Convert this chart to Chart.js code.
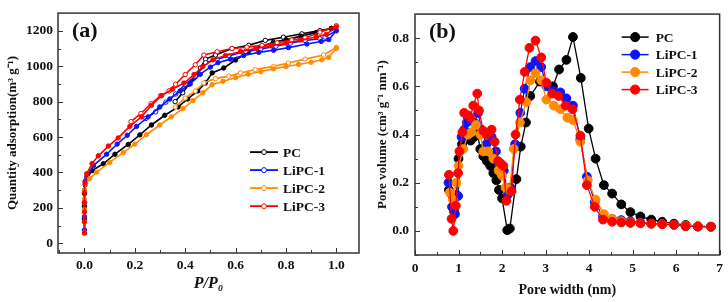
<!DOCTYPE html>
<html>
<head>
<meta charset="utf-8">
<script src="https://cdn.jsdelivr.net/npm/chart.js@4.4.1/dist/chart.umd.min.js"></script>
<style>
  html, body { margin: 0; padding: 0; background: #fff; }
  #wrap { position: relative; width: 728px; height: 302px; }
  #wrap canvas { position: absolute; top: 0; }
  #isoChart { left: 0; }
  #psdChart { left: 364px; }
</style>
</head>
<body>
<div id="wrap">
  <canvas id="isoChart" width="364" height="302"></canvas>
  <canvas id="psdChart" width="364" height="302"></canvas>
</div>
<script>
// ── Series ──
const seriesNames = ['PC', 'LiPC-1', 'LiPC-2', 'LiPC-3'];
const seriesColors = ['#000000', '#0a14ff', '#ff8a00', '#ff0000'];

// ── (a) N2 isotherms: relative pressure P/P0 vs quantity adsorbed ──
const pcAdsP = [0, 0, 0, 0, 0.003, 0.01, 0.03, 0.075, 0.121, 0.174, 0.22, 0.266, 0.319, 0.372, 0.41, 0.45, 0.48, 0.507, 0.553, 0.6, 0.65, 0.7, 0.75, 0.8, 0.86, 0.92, 0.98];
const pcAdsQ = [70, 140, 210, 280, 330, 370, 410, 449, 503, 558, 612, 668, 723, 770, 815, 860, 905, 962, 990, 1035, 1080, 1110, 1135, 1150, 1170, 1190, 1213];
const pcDesP = [0.98, 0.935, 0.863, 0.79, 0.718, 0.652, 0.586, 0.52, 0.481, 0.46, 0.44, 0.415, 0.39, 0.36];
const pcDesQ = [1213, 1201, 1183, 1164, 1146, 1118, 1100, 1063, 1040, 990, 940, 898, 850, 800];

const li1AdsP = [0, 0, 0, 0, 0.003, 0.01, 0.036, 0.088, 0.13, 0.17, 0.207, 0.253, 0.299, 0.339, 0.38, 0.42, 0.46, 0.5, 0.53, 0.58, 0.632, 0.692, 0.751, 0.81, 0.883, 0.94, 0.97, 1.0];
const li1AdsQ = [75, 150, 230, 300, 350, 380, 439, 503, 560, 610, 660, 714, 770, 815, 860, 900, 955, 995, 1020, 1040, 1060, 1078, 1090, 1105, 1125, 1140, 1150, 1200];
const li1DesP = [1.0, 0.955, 0.935, 0.876, 0.817, 0.76, 0.7, 0.64, 0.573, 0.527, 0.481, 0.441, 0.4, 0.362, 0.323, 0.283, 0.244];
const li1DesQ = [1201, 1164, 1155, 1145, 1130, 1113, 1097, 1084, 1058, 1040, 1020, 944, 898, 843, 797, 742, 705];

const li2AdsP = [0, 0, 0, 0, 0, 0.005, 0.02, 0.049, 0.1, 0.154, 0.2, 0.246, 0.299, 0.345, 0.391, 0.431, 0.47, 0.507, 0.55, 0.6, 0.65, 0.7, 0.75, 0.8, 0.85, 0.9, 0.942, 0.97, 1.0];
const li2AdsQ = [60, 120, 190, 250, 300, 335, 365, 402, 457, 512, 560, 613, 668, 714, 760, 806, 850, 895, 915, 935, 955, 970, 985, 998, 1010, 1022, 1036, 1050, 1100];
const li2DesP = [1.0, 0.949, 0.876, 0.81, 0.751, 0.678, 0.619, 0.573, 0.52, 0.474, 0.44, 0.4, 0.36];
const li2DesQ = [1106, 1063, 1040, 1018, 999, 981, 962, 944, 930, 905, 860, 820, 770];

const li3AdsP = [0, 0, 0, 0, 0, 0.002, 0.009, 0.03, 0.055, 0.095, 0.134, 0.18, 0.226, 0.266, 0.306, 0.349, 0.395, 0.435, 0.47, 0.51, 0.56, 0.62, 0.68, 0.74, 0.8, 0.86, 0.92, 0.96, 1.0];
const li3AdsQ = [57, 121, 176, 231, 286, 341, 393, 450, 494, 549, 595, 660, 714, 779, 834, 870, 905, 953, 998, 1036, 1060, 1083, 1100, 1115, 1130, 1148, 1165, 1180, 1222];
const li3DesP = [1.0, 0.935, 0.876, 0.823, 0.765, 0.705, 0.645, 0.586, 0.527, 0.474, 0.44, 0.4, 0.362, 0.336, 0.303, 0.264, 0.224, 0.185];
const li3DesQ = [1229, 1192, 1160, 1148, 1132, 1118, 1108, 1100, 1082, 1063, 1008, 953, 898, 861, 834, 788, 733, 687];

const isoXTicks = [0, 0.2, 0.4, 0.6, 0.8, 1.0];
const isoYTicks = [0, 200, 400, 600, 800, 1000, 1200];

// ── (b) Pore size distribution: pore width (nm) vs pore volume ──
const pcWidth = [0.78, 0.85, 0.9, 0.95, 1.0, 1.08, 1.18, 1.28, 1.36, 1.43, 1.5, 1.57, 1.65, 1.73, 1.8, 1.87, 1.93, 2.0, 2.12, 2.18, 2.33, 2.43, 2.55, 2.65, 2.87, 3.17, 3.31, 3.48, 3.63, 3.81, 3.99, 4.15, 4.34, 4.53, 4.74, 4.95, 5.18, 5.43, 5.68, 5.95, 6.22, 6.5, 6.8];
const pcVolume = [0.17, 0.15, 0.08, 0.15, 0.3, 0.36, 0.38, 0.375, 0.39, 0.41, 0.34, 0.31, 0.29, 0.27, 0.24, 0.21, 0.17, 0.135, 0.003, 0.01, 0.215, 0.35, 0.45, 0.56, 0.62, 0.6, 0.67, 0.71, 0.805, 0.635, 0.425, 0.3, 0.19, 0.155, 0.11, 0.078, 0.06, 0.047, 0.038, 0.03, 0.025, 0.02, 0.018];

const li1Width = [0.77, 0.85, 0.92, 0.99, 1.07, 1.13, 1.19, 1.26, 1.36, 1.45, 1.53, 1.64, 1.76, 1.86, 1.94, 2.04, 2.13, 2.2, 2.3, 2.42, 2.52, 2.65, 2.77, 2.9, 3.02, 3.18, 3.34, 3.48, 3.63, 3.8, 3.95, 4.13, 4.32, 4.53, 4.74, 4.95, 5.18, 5.43, 5.68, 5.95, 6.22, 6.5, 6.8];
const li1Volume = [0.2, 0.1, 0.07, 0.145, 0.39, 0.42, 0.45, 0.46, 0.45, 0.49, 0.42, 0.36, 0.39, 0.33, 0.27, 0.25, 0.15, 0.18, 0.36, 0.49, 0.59, 0.68, 0.705, 0.68, 0.6, 0.58, 0.575, 0.55, 0.52, 0.38, 0.225, 0.12, 0.06, 0.05, 0.045, 0.04, 0.035, 0.03, 0.028, 0.025, 0.02, 0.018, 0.017];

const li2Width = [0.8, 0.87, 0.95, 1.0, 1.11, 1.22, 1.3, 1.4, 1.5, 1.57, 1.68, 1.8, 1.92, 2.0, 2.08, 2.17, 2.27, 2.41, 2.56, 2.65, 2.77, 2.9, 3.02, 3.19, 3.34, 3.5, 3.63, 3.8, 3.97, 4.15, 4.34, 4.53, 4.74, 4.95, 5.18, 5.43, 5.68, 5.95, 6.22, 6.5, 6.8];
const li2Volume = [0.16, 0.13, 0.2, 0.27, 0.34, 0.4, 0.41, 0.44, 0.4, 0.33, 0.33, 0.3, 0.25, 0.23, 0.18, 0.17, 0.34, 0.45, 0.535, 0.625, 0.655, 0.625, 0.545, 0.52, 0.505, 0.47, 0.46, 0.37, 0.21, 0.13, 0.07, 0.05, 0.04, 0.035, 0.032, 0.03, 0.028, 0.025, 0.022, 0.02, 0.017];

const li3Width = [0.78, 0.84, 0.88, 0.94, 0.99, 1.02, 1.09, 1.13, 1.22, 1.27, 1.34, 1.43, 1.47, 1.57, 1.65, 1.76, 1.83, 1.91, 1.97, 2.03, 2.1, 2.22, 2.31, 2.41, 2.52, 2.63, 2.77, 2.9, 3.02, 3.15, 3.3, 3.46, 3.62, 3.8, 3.95, 4.13, 4.32, 4.53, 4.74, 4.95, 5.18, 5.43, 5.68, 5.95, 6.22, 6.5, 6.8];
const li3Volume = [0.233, 0.05, 0.0, 0.105, 0.24, 0.33, 0.41, 0.49, 0.48, 0.47, 0.52, 0.57, 0.5, 0.415, 0.4, 0.42, 0.37, 0.29, 0.28, 0.27, 0.125, 0.165, 0.4, 0.545, 0.66, 0.76, 0.79, 0.72, 0.615, 0.57, 0.56, 0.52, 0.505, 0.395, 0.19, 0.1, 0.047, 0.038, 0.035, 0.033, 0.032, 0.03, 0.028, 0.025, 0.02, 0.018, 0.017];

const psdXTicks = [0, 1, 2, 3, 4, 5, 6, 7];
const psdYTicks = [0, 0.2, 0.4, 0.6, 0.8];

const SERIF = "'Liberation Serif', 'Times New Roman', serif";
const INK = '#111';

const zip = (xs, ys) => xs.map((x, i) => ({ x, y: ys[i] }));

// ── Frame, inward ticks, panel letter and legend drawn over the plot ──
function makeFramePlugin(cfg) {
  return {
    id: 'frame',
    afterDatasetsDraw(chart) {
      const { ctx, chartArea: a, scales: { x, y } } = chart;
      ctx.save();
      ctx.strokeStyle = '#333';
      ctx.lineWidth = 1.5;
      ctx.strokeRect(a.left, a.top, a.right - a.left, a.bottom - a.top);

      ctx.lineWidth = 1;
      ctx.beginPath();
      const xMarks = x.ticks.map(t => [t.value, 5]).concat(cfg.minorX.map(v => [v, 3]));
      const yMarks = y.ticks.map(t => [t.value, 5]).concat(cfg.minorY.map(v => [v, 3]));
      xMarks.forEach(([v, len]) => {
        const px = Math.round(x.getPixelForValue(v)) + 0.5;
        ctx.moveTo(px, a.bottom);
        ctx.lineTo(px, a.bottom - len);
      });
      yMarks.forEach(([v, len]) => {
        const py = Math.round(y.getPixelForValue(v)) + 0.5;
        ctx.moveTo(a.left, py);
        ctx.lineTo(a.left + len, py);
      });
      ctx.stroke();

      // panel letter
      ctx.fillStyle = INK;
      ctx.font = `bold 22px ${SERIF}`;
      ctx.textBaseline = 'alphabetic';
      ctx.fillText(cfg.letter, a.left + 14, a.top + 24);

      // legend
      const lg = cfg.legend;
      ctx.font = `bold ${lg.fontSize}px ${SERIF}`;
      ctx.textBaseline = 'middle';
      seriesNames.forEach((name, i) => {
        const yy = a.top + lg.top + i * lg.dy;
        const x0 = a.right - lg.fromRight;
        ctx.strokeStyle = seriesColors[i];
        ctx.lineWidth = lg.lineWidth;
        ctx.beginPath();
        ctx.moveTo(x0, yy);
        ctx.lineTo(x0 + lg.lineLen, yy);
        ctx.stroke();
        ctx.beginPath();
        ctx.arc(x0 + lg.lineLen / 2, yy, lg.radius, 0, Math.PI * 2);
        ctx.fillStyle = lg.hollow ? '#fff' : seriesColors[i];
        ctx.fill();
        ctx.lineWidth = 1;
        ctx.stroke();
        ctx.fillStyle = INK;
        ctx.fillText(name, x0 + lg.lineLen + lg.gap, yy + 1);
      });
      ctx.restore();
    }
  };
}

function axisFont(size) {
  return { family: SERIF, size, weight: 'bold' };
}

// ── (a) isotherm chart ──
const isoSets = [
  [pcAdsP, pcAdsQ, pcDesP, pcDesQ],
  [li1AdsP, li1AdsQ, li1DesP, li1DesQ],
  [li2AdsP, li2AdsQ, li2DesP, li2DesQ],
  [li3AdsP, li3AdsQ, li3DesP, li3DesQ],
];
const isoDatasets = [];
isoSets.forEach(([ap, aq, dp, dq], i) => {
  const common = {
    showLine: true,
    borderColor: seriesColors[i],
    borderWidth: 1.6,
    pointRadius: 2.2,
    pointBorderWidth: 1,
    pointBorderColor: seriesColors[i],
    order: 3 - i,
  };
  isoDatasets.push({ ...common, label: seriesNames[i], data: zip(ap, aq), pointBackgroundColor: seriesColors[i] });
  isoDatasets.push({ ...common, label: seriesNames[i] + ' des', data: zip(dp, dq), pointBackgroundColor: '#fff' });
});

new Chart(document.getElementById('isoChart'), {
  type: 'scatter',
  data: { datasets: isoDatasets },
  options: {
    responsive: false,
    animation: false,
    devicePixelRatio: 1,
    layout: { padding: { top: 7, right: 3, left: 0, bottom: 0 } },
    plugins: { legend: { display: false }, tooltip: { enabled: false } },
    scales: {
      x: {
        type: 'linear', min: -0.105, max: 1.09,
        afterBuildTicks: s => { s.ticks = isoXTicks.map(v => ({ value: v })); },
        afterFit: s => { s.height = 49; },
        grid: { display: false, drawTicks: false }, border: { display: false },
        ticks: { padding: 4, color: INK, font: axisFont(13.5), callback: v => v.toFixed(1) },
        title: { display: true, text: 'P/P₀', color: INK, font: { family: SERIF, size: 16, weight: 'bold', style: 'italic' }, padding: { top: 0, bottom: 9 } }
      },
      y: {
        type: 'linear', min: -55, max: 1300,
        afterBuildTicks: s => { s.ticks = isoYTicks.map(v => ({ value: v })); },
        afterFit: s => { s.width = 58; },
        grid: { display: false, drawTicks: false }, border: { display: false },
        ticks: { padding: 5, color: INK, font: axisFont(13.5), callback: v => String(v) },
        title: { display: true, text: 'Quantity adsorption(m³ g⁻¹)', color: INK, font: axisFont(13), padding: { top: 5, bottom: 0 } }
      }
    }
  },
  plugins: [makeFramePlugin({
    letter: '(a)',
    minorX: [-0.1, 0.1, 0.3, 0.5, 0.7, 0.9],
    minorY: [100, 300, 500, 700, 900, 1100],
    legend: { top: 139, dy: 18, fromRight: 109, lineLen: 28, gap: 5, radius: 2.5, hollow: true, lineWidth: 1.8, fontSize: 13.5 }
  })]
});

// ── (b) pore size distribution chart ──
const psdSets = [[pcWidth, pcVolume], [li1Width, li1Volume], [li2Width, li2Volume], [li3Width, li3Volume]];
const psdDatasets = psdSets.map(([w, v], i) => ({
  label: seriesNames[i],
  data: zip(w, v),
  showLine: true,
  borderColor: seriesColors[i],
  backgroundColor: seriesColors[i],
  borderWidth: 1.3,
  pointRadius: 4.4,
  pointBorderWidth: 1,
  pointBackgroundColor: seriesColors[i],
  pointBorderColor: seriesColors[i],
  order: 3 - i,
}));

new Chart(document.getElementById('psdChart'), {
  type: 'scatter',
  data: { datasets: psdDatasets },
  options: {
    responsive: false,
    animation: false,
    devicePixelRatio: 1,
    layout: { padding: { top: 8, right: 8, left: 0, bottom: 0 } },
    plugins: { legend: { display: false }, tooltip: { enabled: false } },
    scales: {
      x: {
        type: 'linear', min: 0, max: 7,
        afterBuildTicks: s => { s.ticks = psdXTicks.map(v => ({ value: v })); },
        afterFit: s => { s.height = 47; },
        grid: { display: false, drawTicks: false }, border: { display: false },
        ticks: { padding: 5, color: INK, font: axisFont(13.5) },
        title: { display: true, text: 'Pore width (nm)', color: INK, font: axisFont(14), padding: { top: 0, bottom: 3 } }
      },
      y: {
        type: 'linear', min: -0.1, max: 0.9,
        afterBuildTicks: s => { s.ticks = psdYTicks.map(v => ({ value: v })); },
        afterFit: s => { s.width = 51; },
        grid: { display: false, drawTicks: false }, border: { display: false },
        ticks: { padding: 6, color: INK, font: axisFont(13.5), callback: v => v.toFixed(1) },
        title: { display: true, text: 'Pore volume (cm³ g⁻¹ nm⁻¹)', color: INK, font: axisFont(13), padding: { top: 11, bottom: 0 } }
      }
    }
  },
  plugins: [makeFramePlugin({
    letter: '(b)',
    minorX: [0.5, 1.5, 2.5, 3.5, 4.5, 5.5, 6.5],
    minorY: [-0.1, 0.1, 0.3, 0.5, 0.7],
    legend: { top: 23, dy: 17.5, fromRight: 98, lineLen: 27, gap: 7, radius: 4.6, hollow: false, lineWidth: 1.5, fontSize: 13.5 }
  })]
});
</script>
</body>
</html>
